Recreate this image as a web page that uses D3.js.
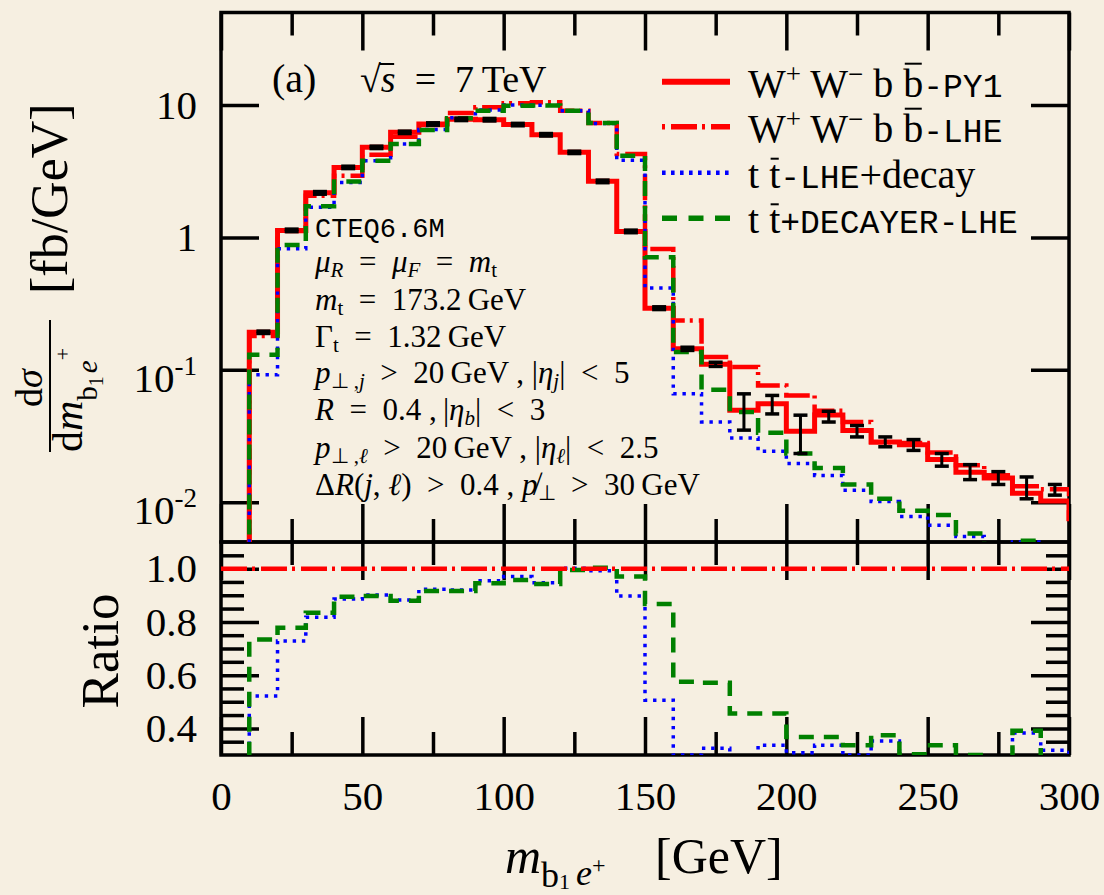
<!DOCTYPE html>
<html><head><meta charset="utf-8">
<script src="https://cdn.jsdelivr.net/npm/d3@7"></script>
<style>body{margin:0;background:#f6efe1}svg{display:block}</style>
</head><body>
<svg id="c" width="1104" height="895"></svg>
<script>
// ---------------- data ----------------
// lower edges of the 10 GeV bins (last one lies just beyond the axis end)
const binLow   = [10,20,30,40,50,60,70,80,90,100,110,120,130,140,150,160,170,180,190,200,210,220,230,240,250,260,270,280,290,300];
// dσ/dm [fb/GeV]
const py1      = [0.192,1.13,2.17,3.38,4.79,6.22,7.19,7.8,7.75,7.12,5.96,4.39,2.65,1.11,0.292,0.144,0.110,0.0494,0.0554,0.0343,0.0455,0.0348,0.0285,0.0272,0.0210,0.0168,0.0152,0.0117,0.0102,0.0075];
const lhe      = [0.18,1.12,2.06,2.92,4.22,5.75,7.06,8.69,9.6,10.3,10.5,9.05,7.3,4.27,0.819,0.236,0.125,0.105,0.0762,0.064,0.049,0.0404,0.0283,0.028,0.0237,0.019,0.016,0.0132,0.0125,0.0075];
const ttDecay  = [0.0917,0.82,1.69,2.6,3.8,5.07,6.52,8.0,9.16,9.99,9.94,9.06,7.24,3.83,0.414,0.066,0.0404,0.0305,0.0242,0.0196,0.0159,0.0123,0.0101,0.0078,0.0067,0.0055,0.0045,0.0050,0.0039,0.003];
const ttDecayer= [0.130,0.878,1.72,2.64,3.80,5.07,6.47,7.96,9.05,9.87,9.9,9.05,7.3,4.14,0.709,0.136,0.0707,0.048,0.0335,0.0233,0.0181,0.0136,0.0106,0.0086,0.0080,0.0058,0.0045,0.0051,0.0040,0.003];
// error bars of the PY1 curve
const errLo    = [0.188,1.105,2.12,3.31,4.69,6.09,7.04,7.63,7.58,6.97,5.83,4.30,2.59,1.085,0.285,0.140,0.106,0.0350,0.0464,0.0233,0.0403,0.0311,0.0262,0.0246,0.0187,0.0148,0.0136,0.0106,0.0113];
const errHi    = [0.196,1.155,2.22,3.45,4.89,6.35,7.34,7.97,7.92,7.27,6.09,4.48,2.71,1.135,0.299,0.148,0.114,0.0658,0.0640,0.0454,0.0486,0.0379,0.0311,0.0297,0.0233,0.0192,0.0170,0.0155,0.0136];
// ratio panel
const ratioDecay   = [0.522,0.728,0.817,0.886,0.901,0.882,0.923,0.920,0.954,0.970,0.947,1.001,0.992,0.897,0.506,0.300,0.325,0.29,0.337,0.308,0.337,0.300,0.353,0.29,0.29,0.29,0.29,0.383,0.318,0.29];
const ratioDecayer = [0.734,0.778,0.834,0.894,0.897,0.879,0.916,0.916,0.945,0.957,0.942,0.995,1.003,0.970,0.867,0.575,0.571,0.456,0.456,0.368,0.368,0.337,0.374,0.303,0.337,0.300,0.28,0.391,0.28,0.28];
const ratioRef = [1.0, 1.0];
// axis ticks
const xMajor = [0,50,100,150,200,250,300];
const xMinor = [25,75,125,175,225,275];
const yMainTicks = [0.01,0.1,1,10];
const yRatioMajor = [0.4,0.6,0.8,1.0];
const yRatioMinor = [0.35,0.45,0.5,0.55,0.65,0.7,0.75,0.85,0.9,0.95,1.05];

// ---------------- setup ----------------
const SERIF = "'Liberation Serif','Times New Roman',serif";
const MONO = "'Liberation Mono','DejaVu Sans Mono',monospace";
const RED = '#ff0000', BLUE = '#0000ff', GREEN = '#008000';
const svg = d3.select('#c');
svg.append('rect').attr('width',1104).attr('height',895).attr('fill','#f6efe1');

const L=221, R=1069, T=12.5, MB=542, RB=755;
const x = d3.scaleLinear().domain([0,300]).range([L,R]);
const yMain = d3.scaleLog().domain([0.005,50]).range([MB,T]);
const yRatio = d3.scaleLinear().domain([0.3,1.1]).range([RB,MB]);

const defs = svg.append('defs');
defs.append('clipPath').attr('id','cm').append('rect').attr('x',L).attr('y',T).attr('width',R-L).attr('height',MB-T);
defs.append('clipPath').attr('id','cr').append('rect').attr('x',L).attr('y',MB).attr('width',R-L).attr('height',RB-MB);

function ticks(gen, tr, size) {
  const g = svg.append('g').attr('transform', tr).call(gen.tickSize(size));
  g.select('.domain').remove();
  g.selectAll('line').attr('stroke','#000').attr('stroke-width',3.5);
  g.attr('font-family', SERIF).attr('font-size', 41);
  g.selectAll('text').attr('fill','#000');
  return g;
}
const none = () => '';
// main panel ticks
ticks(d3.axisBottom(x).tickValues(xMajor).tickFormat(none), `translate(0,${MB})`, -38);
ticks(d3.axisBottom(x).tickValues(xMinor).tickFormat(none), `translate(0,${MB})`, -23);
ticks(d3.axisTop(x).tickValues(xMajor).tickFormat(none), `translate(0,${T})`, -38);
ticks(d3.axisTop(x).tickValues(xMinor).tickFormat(none), `translate(0,${T})`, -23);
const gy = ticks(d3.axisLeft(yMain).tickValues(yMainTicks).tickPadding(24).tickFormat(d => d >= 1 ? String(d) : ''), `translate(${L},0)`, -38);
gy.selectAll('.tick text').each(function(d){
  if (d < 1) {
    const t = d3.select(this).attr('dy','0.52em');
    t.append('tspan').text('10');
    t.append('tspan').attr('dy',-17).attr('font-size',27).text(String(Math.round(Math.log10(d))));
  }
});
ticks(d3.axisRight(yMain).tickValues(yMainTicks).tickFormat(none), `translate(${R},0)`, -38);
// ratio panel ticks
ticks(d3.axisTop(x).tickValues(xMajor).tickFormat(none), `translate(0,${MB})`, -38);
ticks(d3.axisTop(x).tickValues(xMinor).tickFormat(none), `translate(0,${MB})`, -23);
ticks(d3.axisBottom(x).tickValues(xMajor).tickPadding(26).tickFormat(d3.format('d')), `translate(0,${RB})`, -38);
ticks(d3.axisBottom(x).tickValues(xMinor).tickFormat(none), `translate(0,${RB})`, -23);
ticks(d3.axisLeft(yRatio).tickValues(yRatioMajor).tickPadding(24).tickFormat(d3.format('.1f')), `translate(${L},0)`, -38);
ticks(d3.axisLeft(yRatio).tickValues(yRatioMinor).tickFormat(none), `translate(${L},0)`, -23);
ticks(d3.axisRight(yRatio).tickValues(yRatioMajor).tickFormat(none), `translate(${R},0)`, -38);
ticks(d3.axisRight(yRatio).tickValues(yRatioMinor).tickFormat(none), `translate(${R},0)`, -23);

// frames
svg.append('rect').attr('x',L).attr('y',T).attr('width',R-L).attr('height',MB-T).attr('fill','none').attr('stroke','#000').attr('stroke-width',3.5);
svg.append('rect').attr('x',L).attr('y',MB).attr('width',R-L).attr('height',RB-MB).attr('fill','none').attr('stroke','#000').attr('stroke-width',3.5);

// ---------------- histograms ----------------
function stepPts(vals, floor) {
  const p = [[binLow[0], floor]];
  binLow.forEach((b,i) => p.push([b, vals[i]]));
  p.push([binLow[binLow.length-1] + 10, vals[vals.length-1]]);
  return p;
}
const styles = {
  py1:   {stroke: RED,   w: 5,   dash: null},
  lhe:   {stroke: RED,   w: 4.5, dash: '26 5 3 6'},
  dec:   {stroke: BLUE,  w: 3.5, dash: '3.4 5.8'},
  decr:  {stroke: GREEN, w: 4.5, dash: '15 10'}
};
function drawStep(g, yS, vals, floor, st) {
  const line = d3.line().x(d => x(d[0])).y(d => yS(d[1])).curve(d3.curveStepAfter);
  const p = g.append('path').attr('d', line(stepPts(vals, floor))).attr('fill','none')
    .attr('stroke', st.stroke).attr('stroke-width', st.w).attr('stroke-linejoin','miter');
  if (st.dash) p.attr('stroke-dasharray', st.dash);
}
const gm = svg.append('g').attr('clip-path','url(#cm)');
drawStep(gm, yMain, py1, 0.001, styles.py1);
drawStep(gm, yMain, lhe, 0.001, styles.lhe);
drawStep(gm, yMain, ttDecay, 0.001, styles.dec);
drawStep(gm, yMain, ttDecayer, 0.001, styles.decr);

// error bars
const ge = svg.append('g').attr('stroke','#000');
errLo.forEach((lo,i) => {
  const cx = x(binLow[i] + 5), y1 = yMain(lo), y2 = yMain(errHi[i]);
  ge.append('line').attr('x1',cx).attr('x2',cx).attr('y1',y1).attr('y2',y2).attr('stroke-width',3);
  [y1,y2].forEach(yy => ge.append('line').attr('x1',cx-7).attr('x2',cx+7).attr('y1',yy).attr('y2',yy).attr('stroke-width',3.5));
});

// ratio panel
const gr = svg.append('g').attr('clip-path','url(#cr)');
drawStep(gr, yRatio, ratioDecay, 0.2, styles.dec);
drawStep(gr, yRatio, ratioDecayer, 0.2, styles.decr);
gr.append('path').attr('d', d3.line().x(d=>x(d[0])).y(d=>yRatio(d[1]))([[0, ratioRef[0]],[300, ratioRef[1]]]))
  .attr('stroke', RED).attr('stroke-width',4.5).attr('stroke-dasharray','26 5 3 6').attr('fill','none');

// ---------------- text helpers ----------------
function rich(parent, x0, y0, segs, o = {}) {
  const size = o.size || 31;
  const t = parent.append('text').attr('x',x0).attr('y',y0).attr('font-size',size)
    .attr('font-family', o.family || SERIF).attr('fill','#000');
  if (o.anchor) t.attr('text-anchor', o.anchor);
  let shift = 0, idx = 0; const bars = [];
  segs.forEach(s => {
    const ts = t.append('tspan').text(s.t);
    const target = s.dy || 0;
    if (target !== shift) { ts.attr('dy', target - shift); shift = target; }
    if (s.size) ts.attr('font-size', s.size);
    if (s.it) ts.attr('font-style','italic');
    if (s.mono) ts.attr('font-family', MONO);
    if (s.dx) ts.attr('dx', s.dx);
    if (s.bar !== undefined) bars.push({idx, len: s.t.length, off: s.bar, ext: s.barExt || 0});
    idx += s.t.length;
  });
  bars.forEach(b => {
    const e1 = t.node().getExtentOfChar(b.idx), e2 = t.node().getExtentOfChar(b.idx + b.len - 1);
    const yb = y0 - b.off;
    parent.append('line').attr('x1', e1.x + 1.5 - b.ext).attr('x2', e2.x + e2.width - 1.5)
      .attr('y1', yb).attr('y2', yb).attr('stroke','#000').attr('stroke-width',2);
  });
  return t;
}
const Q = '\u2002'; // wider space around relations

// title
rich(svg, 272, 92, [{t:'(a)'}], {size:40});
rich(svg, 360, 92, [{t:'√'},{t:'s', it:true, bar:28, barExt:3},{t:Q+'='+Q+'7\u2009TeV'}], {size:38});

// legend
const legY = [81.7, 126.7, 172.7, 218.3];
const legStyles = [styles.py1, styles.lhe, styles.dec, styles.decr];
const legText = [
  [{t:'W'},{t:'+',dy:-14,size:27},{t:' W'},{t:'\u2212',dy:-14,size:27},{t:' b '},{t:'b',bar:33},{t:'-PY1',mono:true,size:33}],
  [{t:'W'},{t:'+',dy:-14,size:27},{t:' W'},{t:'\u2212',dy:-14,size:27},{t:' b '},{t:'b',bar:33},{t:'-LHE',mono:true,size:33}],
  [{t:'t '},{t:'t',bar:29},{t:'-LHE',mono:true,size:33},{t:'+decay'}],
  [{t:'t '},{t:'t',bar:29},{t:'+DECAYER-LHE',mono:true,size:33}]
];
legY.forEach((ly,i) => {
  const st = legStyles[i];
  const ln = svg.append('line').attr('x1',662).attr('x2',730).attr('y1',ly).attr('y2',ly)
    .attr('stroke',st.stroke).attr('stroke-width', st.w + 1);
  if (i === 1) ln.attr('stroke-dasharray','26 5 3 6').attr('stroke-dashoffset',31);
  if (i === 2) ln.attr('stroke-dasharray','3.6 5.4');
  if (i === 3) ln.attr('stroke-dasharray','15 11.5');
  rich(svg, 748, ly + 15, legText[i], {size:40});
});

// parameter block
rich(svg, 315, 237, [{t:'CTEQ6.6M'}], {size:27, family:MONO});
const S = {size:21, dy:4.5};
rich(svg, 315, 272, [{t:'μ',it:true},{t:'R',it:true,...S},{t:Q+'='+Q},{t:'μ',it:true},{t:'F',it:true,...S},{t:Q+'='+Q},{t:'m',it:true},{t:'t',...S}]);
rich(svg, 315, 310, [{t:'m',it:true},{t:'t',...S},{t:Q+'='+Q+'173.2\u2009GeV'}]);
rich(svg, 315, 347, [{t:'Γ'},{t:'t',...S},{t:Q+'='+Q+'1.32\u2009GeV'}]);
rich(svg, 315, 383, [{t:'p',it:true},{t:'⊥ ,',...S},{t:'j',it:true,...S},{t:Q+'>'+Q+'20\u2009GeV , |'},{t:'η',it:true},{t:'j',it:true,...S},{t:'|'+Q+'<'+Q+'5'}]);
rich(svg, 315, 420, [{t:'R',it:true},{t:Q+'='+Q+'0.4 ,\u2009|'},{t:'η',it:true},{t:'b',it:true,...S},{t:'|'+Q+'<'+Q+'3'}]);
rich(svg, 315, 458, [{t:'p',it:true},{t:'⊥ ,',...S},{t:'ℓ',it:true,...S},{t:Q+'>'+Q+'20\u2009GeV , |'},{t:'η',it:true},{t:'ℓ',it:true,...S},{t:'|'+Q+'<'+Q+'2.5'}]);
rich(svg, 315, 495, [{t:'Δ'},{t:'R',it:true},{t:'('},{t:'j',it:true},{t:', '},{t:'ℓ',it:true},{t:')'+Q+'>'+Q+'0.4 , '},{t:'p\u0338',it:true},{t:'⊥',...S},{t:Q+'>'+Q+'30\u2009GeV'}]);

// x title
rich(svg, 505, 873, [{t:'m',it:true},{t:'b',size:36,dy:14},{t:'1',size:22,dy:16},{t:'e',it:true,size:36,dy:12,dx:6},{t:'+',size:24,dy:0}], {size:50});
rich(svg, 655, 873, [{t:'[GeV]'}], {size:50});

// y titles (rotated)
const yt = svg.append('g').attr('transform','rotate(-90)');
rich(yt, -294, 67, [{t:'[fb/GeV]'}], {size:52});
yt.append('line').attr('x1',-452).attr('x2',-320).attr('y1',50).attr('y2',50).attr('stroke','#000').attr('stroke-width',2);
rich(yt, -388, 42, [{t:'d'},{t:'σ',it:true}], {size:38, anchor:'middle'});
rich(yt, -452, 82, [{t:'d'},{t:'m',it:true},{t:'b',size:29,dy:15},{t:'1',size:20,dy:21},{t:'e',it:true,size:29,dy:15,dx:3},{t:'+',size:22,dy:-12}], {size:42});
rich(yt, -651, 118, [{t:'Ratio'}], {size:53, anchor:'middle'});
</script>
</body></html>
